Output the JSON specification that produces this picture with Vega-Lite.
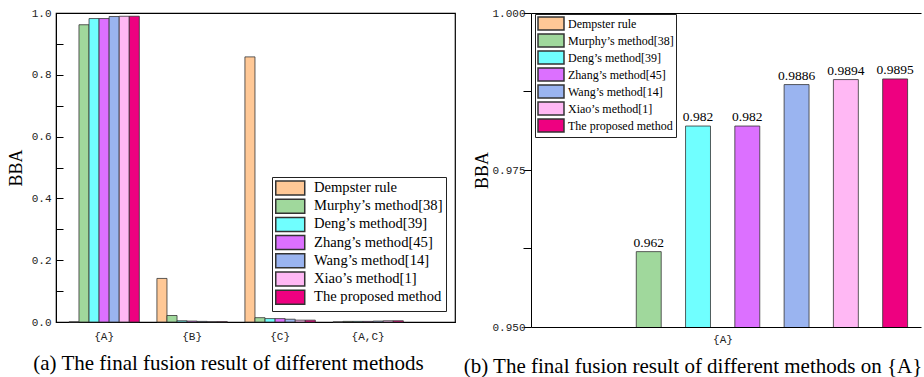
{
  "$schema": "https://vega.github.io/schema/vega-lite/v6.json",
  "padding": {"left": 6, "top": 6, "right": 0, "bottom": 0},
  "background": "white",
  "bounds": "flush",
  "spacing": 76,
  "datasets": {
    "all": [
      {"set": "{A}", "method": "Dempster rule", "value": 0},
      {"set": "{A}", "method": "Murphy’s method[38]", "value": 0.962},
      {"set": "{A}", "method": "Deng’s method[39]", "value": 0.982},
      {"set": "{A}", "method": "Zhang’s method[45]", "value": 0.982},
      {"set": "{A}", "method": "Wang’s method[14]", "value": 0.9886},
      {"set": "{A}", "method": "Xiao’s method[1]", "value": 0.9894},
      {"set": "{A}", "method": "The proposed method", "value": 0.9895},
      {"set": "{B}", "method": "Dempster rule", "value": 0.141},
      {"set": "{B}", "method": "Murphy’s method[38]", "value": 0.021},
      {"set": "{B}", "method": "Deng’s method[39]", "value": 0.004},
      {"set": "{B}", "method": "Zhang’s method[45]", "value": 0.003},
      {"set": "{B}", "method": "Wang’s method[14]", "value": 0.002},
      {"set": "{B}", "method": "Xiao’s method[1]", "value": 0.001},
      {"set": "{B}", "method": "The proposed method", "value": 0.001},
      {"set": "{C}", "method": "Dempster rule", "value": 0.858},
      {"set": "{C}", "method": "Murphy’s method[38]", "value": 0.014},
      {"set": "{C}", "method": "Deng’s method[39]", "value": 0.011},
      {"set": "{C}", "method": "Zhang’s method[45]", "value": 0.011},
      {"set": "{C}", "method": "Wang’s method[14]", "value": 0.009},
      {"set": "{C}", "method": "Xiao’s method[1]", "value": 0.006},
      {"set": "{C}", "method": "The proposed method", "value": 0.006},
      {"set": "{A,C}", "method": "Dempster rule", "value": 0},
      {"set": "{A,C}", "method": "Murphy’s method[38]", "value": 0.002},
      {"set": "{A,C}", "method": "Deng’s method[39]", "value": 0.002},
      {"set": "{A,C}", "method": "Zhang’s method[45]", "value": 0.002},
      {"set": "{A,C}", "method": "Wang’s method[14]", "value": 0.003},
      {"set": "{A,C}", "method": "Xiao’s method[1]", "value": 0.004},
      {"set": "{A,C}", "method": "The proposed method", "value": 0.004}
    ]
  },
  "resolve": {"scale": {"color": "independent", "xOffset": "independent", "x": "independent", "y": "independent"}, "legend": {"color": "independent"}},
  "config": {
    "font": "Liberation Serif",
    "view": {"stroke": "black", "strokeWidth": 1.2},
    "axis": {"labelFont": "Liberation Mono", "labelFontSize": 11, "labelColor": "#222", "titleFont": "Liberation Serif", "titleFontWeight": "normal", "titleFontSize": 18, "titleColor": "black", "domainColor": "black", "tickColor": "black", "grid": false},
    "legend": {"labelFont": "Liberation Serif", "labelColor": "black", "strokeColor": "#222", "fillColor": "white", "title": null},
    "title": {"font": "Liberation Serif", "fontSize": 21, "fontWeight": "normal", "color": "black", "orient": "bottom", "anchor": "middle"}
  },
  "hconcat": [
    {
      "width": 399,
      "height": 309,
      "title": {"text": "(a) The final fusion result of different methods", "dx": -27, "offset": 12},
      "data": {"name": "all"},
      "mark": {"type": "bar", "stroke": "#333", "strokeWidth": 0.8},
      "encoding": {
        "x": {"field": "set", "type": "nominal", "sort": null,
              "scale": {"domain": ["{A}", "{B}", "{C}", "{A,C}"], "paddingInner": 0.2, "paddingOuter": 0.367, "align": 0.2},
              "axis": {"title": null, "ticks": false, "labelAngle": 0, "labelPadding": 8, "domain": true}},
        "xOffset": {"field": "method", "type": "nominal", "sort": null,
              "scale": {"domain": ["Dempster rule", "Murphy’s method[38]", "Deng’s method[39]", "Zhang’s method[45]", "Wang’s method[14]", "Xiao’s method[1]", "The proposed method"], "paddingInner": 0, "paddingOuter": 0}},
        "y": {"field": "value", "type": "quantitative",
              "scale": {"domain": [0, 1]},
              "axis": {"title": "BBA", "values": [0, 0.1, 0.2, 0.3, 0.4, 0.5, 0.6, 0.7, 0.8, 0.9, 1.0],
                       "labelExpr": "(round(datum.value*10) % 2 == 0) ? format(datum.value, '.1f') : ''",
                       "tickSize": -7,
                       "labelPadding": 12,
                       "titlePadding": 6}},
        "color": {"field": "method", "type": "nominal", "sort": null,
              "scale": {"domain": ["Dempster rule", "Murphy’s method[38]", "Deng’s method[39]", "Zhang’s method[45]", "Wang’s method[14]", "Xiao’s method[1]", "The proposed method"],
                        "range": ["#FFC896", "#A0D89C", "#70FFFF", "#DC70FF", "#9AB4F0", "#FFB8F4", "#EE0080"]},
              "legend": {"orient": "none", "legendX": 216, "legendY": 164, "symbolType": "M-1,-0.966H3V0.966H-1Z", "symbolSize": 210, "symbolStrokeColor": "#333", "labelFontSize": 14.6, "labelOffset": 23, "rowPadding": -1.8, "padding": 3}}
      }
    },
    {
      "width": 390,
      "height": 314,
      "view": {"stroke": null},
      "title": {"text": "(b) The final fusion result of different methods on {A}", "dx": -33, "offset": 12},
      "data": {"name": "all"},
      "transform": [{"filter": "datum.set == '{A}'"}],
      "resolve": {"axis": {"x": "independent"}},
      "layer": [
        {
          "mark": {"type": "bar", "stroke": "#333", "strokeWidth": 0.8, "clip": true},
          "encoding": {
            "x": {"field": "set", "type": "nominal",
                  "scale": {"domain": ["{A}"], "paddingInner": 0, "paddingOuter": 0},
                  "axis": {"title": null, "ticks": false, "labelAngle": 0, "labelPadding": 6, "labelOffset": -3, "domainColor": "black", "orient": "bottom"}},
            "xOffset": {"field": "method", "type": "nominal", "sort": null,
                  "scale": {"domain": ["Dempster rule", "Murphy’s method[38]", "Deng’s method[39]", "Zhang’s method[45]", "Wang’s method[14]", "Xiao’s method[1]", "The proposed method"], "paddingInner": 0.494, "paddingOuter": 0.704, "align": 0.807}},
            "y": {"field": "value", "type": "quantitative",
                  "scale": {"domain": [0.95, 1.0], "zero": false},
                  "axis": {"title": "BBA", "values": [0.95, 0.9625, 0.975, 0.9875, 1.0],
                           "labelExpr": "(abs(datum.value*1000 - round(datum.value*40)*25) < 0.5) ? format(datum.value, '.3f') : ''",
                           "tickSize": 8,
                           "labelPadding": -2,
                           "titlePadding": 0}},
            "color": {"field": "method", "type": "nominal", "sort": null,
                  "scale": {"domain": ["Dempster rule", "Murphy’s method[38]", "Deng’s method[39]", "Zhang’s method[45]", "Wang’s method[14]", "Xiao’s method[1]", "The proposed method"],
                            "range": ["#FFC896", "#A0D89C", "#70FFFF", "#DC70FF", "#9AB4F0", "#FFB8F4", "#EE0080"]},
                  "legend": {"orient": "none", "legendX": 4, "legendY": 1, "symbolType": "M-1,-1H3V1H-1Z", "symbolSize": 169, "symbolStrokeColor": "#333", "labelFontSize": 12, "labelOffset": 16, "rowPadding": -3, "padding": 2}}
          }
        },
        {
          "transform": [{"filter": "datum.value > 0.95"}],
          "mark": {"type": "text", "baseline": "bottom", "dy": -2, "fontSize": 13.5, "font": "Liberation Serif", "color": "black"},
          "encoding": {
            "x": {"field": "set", "type": "nominal",
                  "axis": {"orient": "top", "title": null, "labels": false, "ticks": false, "domain": true, "domainColor": "black", "domainWidth": 1.2}},
            "xOffset": {"field": "method", "type": "nominal", "sort": null},
            "y": {"field": "value", "type": "quantitative"},
            "text": {"field": "value", "type": "quantitative", "format": ".4~f"}
          }
        }
      ]
    }
  ]
}
